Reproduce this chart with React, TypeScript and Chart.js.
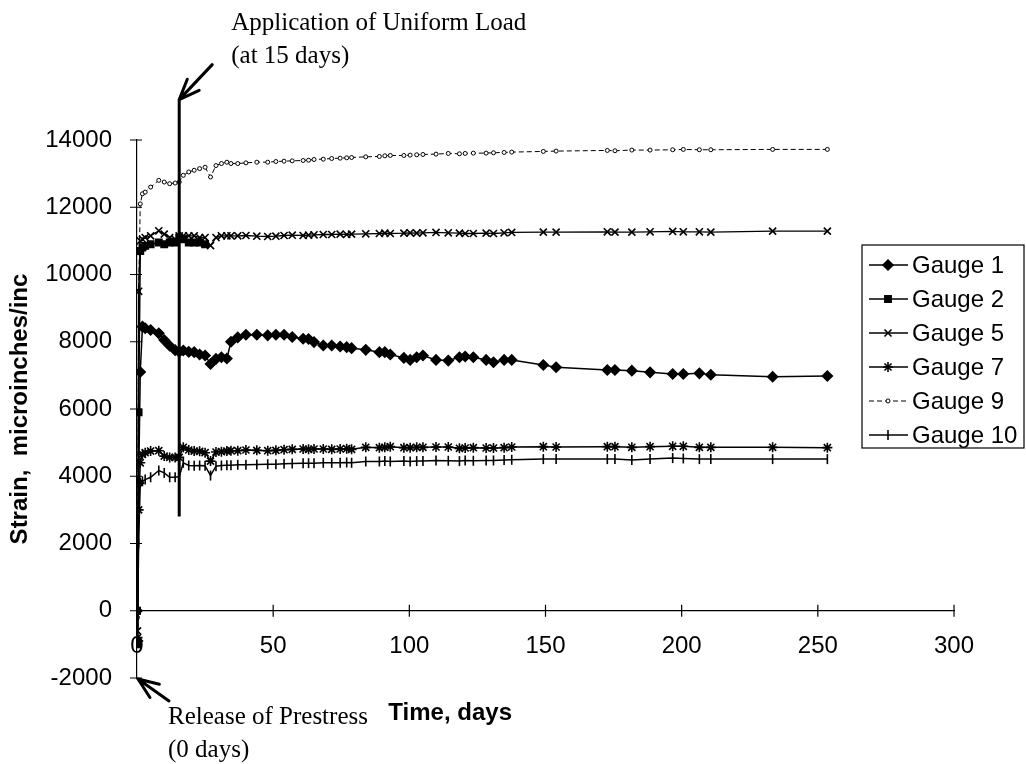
import React, { useEffect, useRef } from "react";
import { Chart, registerables } from "chart.js";
import { drawPoint } from "chart.js/helpers";

Chart.register(...registerables);

// ---------------- data ----------------
const DAYS = [
  0, 0.2, 0.6, 1.2, 2, 3, 5, 8, 10, 12,
  14, 15.5, 17, 19, 21, 23, 25, 27, 29, 31,
  33, 34.5, 37, 40, 44, 48, 51, 54, 57, 61,
  63, 65, 68.4, 71.5, 74.6, 77, 78.8, 84, 89, 91,
  93, 98, 100.3, 102.7, 105, 109.8, 114.3, 118.4, 120.5, 123.5,
  128.2, 130.9, 134.8, 137.6, 149.2, 153.9, 172.7, 175.5, 181.7, 188.4,
  196.7, 200.6, 206.5, 210.7, 233.4, 253.5,
];

const GAUGE_1 = [
  0, -900, 3800, 7100, 8450, 8400, 8350, 8250, 8050, 7880,
  7750, 7700, 7740, 7700, 7690, 7620, 7590, 7340, 7490, 7540,
  7500, 8000, 8130, 8210, 8210, 8190, 8210, 8210, 8140, 8090,
  8080, 7990, 7890, 7890, 7860, 7840, 7810, 7760, 7690, 7690,
  7620, 7520, 7460, 7540, 7590, 7460, 7440, 7540, 7560, 7540,
  7460, 7390, 7460, 7460, 7310, 7240, 7160, 7160, 7140, 7090,
  7040, 7040, 7060, 7020, 6960, 6980,
];

const GAUGE_2 = [
  0, -1000, 5900, 10700, 10800, 10850, 10900, 10950, 10900, 10950,
  10950, 11100, 11050, 10950, 10950, 10950, 10900,
];

const GAUGE_5 = [
  0, -600, 9500, 11000, 11050, 11100, 11150, 11300, 11200, 11100,
  11050, 11150, 11150, 11150, 11150, 11100, 11100, 10860, 11100, 11150,
  11150, 11150, 11150, 11160, 11140, 11130, 11140, 11160, 11170, 11160,
  11170, 11180, 11190, 11190, 11200, 11190, 11200, 11210, 11220, 11230,
  11220, 11230, 11240, 11230, 11240, 11250, 11240, 11230, 11220, 11220,
  11230, 11220, 11240, 11250, 11260, 11260, 11270, 11260, 11260, 11270,
  11280, 11270, 11270, 11260, 11290, 11290,
];

const GAUGE_7 = [
  0, -800, 3000, 4400, 4650, 4700, 4750, 4760, 4600, 4560,
  4560, 4560, 4860, 4780, 4750, 4740, 4700, 4450, 4720, 4730,
  4750, 4760, 4760, 4780, 4770, 4760, 4770, 4790, 4800, 4810,
  4800, 4810, 4810, 4800, 4810, 4820, 4800, 4860, 4850, 4860,
  4880, 4850, 4850, 4860, 4860, 4870, 4870, 4830, 4840, 4850,
  4840, 4840, 4850, 4870, 4880, 4870, 4880, 4880, 4860, 4880,
  4890, 4890, 4860, 4860, 4860, 4850,
];

const GAUGE_9 = [
  0, -200, 9500, 12100, 12400, 12450, 12600, 12800, 12750, 12700,
  12720, 12750, 12950, 13050, 13100, 13150, 13190, 12900, 13240, 13300,
  13340, 13300, 13300, 13320, 13340, 13340, 13360, 13370, 13380, 13390,
  13400, 13420, 13430, 13450, 13460, 13470, 13480, 13500, 13510, 13530,
  13540, 13540, 13550, 13560, 13570, 13580, 13600, 13590, 13600, 13610,
  13610, 13620, 13630, 13640, 13660, 13670, 13690, 13680, 13700, 13700,
  13710, 13720, 13710, 13710, 13720, 13720,
];

const GAUGE_10 = [
  0, -500, 2000, 3800, 3850, 3900, 3970, 4170, 4100, 3970,
  3970, 3990, 4400, 4320, 4310, 4320, 4310, 4020, 4300, 4320,
  4330, 4330, 4340, 4340, 4350, 4360, 4360, 4370, 4380, 4390,
  4390, 4390, 4400, 4400, 4400, 4410, 4400, 4440, 4440, 4450,
  4440, 4450, 4440, 4450, 4450, 4470, 4460, 4450, 4470, 4460,
  4470, 4470, 4480, 4490, 4510, 4510, 4510, 4510, 4480, 4510,
  4540, 4530, 4510, 4510, 4510, 4510,
];

const SERIES_NAMES = ["Gauge 1", "Gauge 2", "Gauge 5", "Gauge 7", "Gauge 9", "Gauge 10"];
const X_TICKS = [0, 50, 100, 150, 200, 250, 300];
const Y_TICKS = [-2000, 0, 2000, 4000, 6000, 8000, 10000, 12000, 14000];
const LOAD_DAY = 15.5;
const LOAD_LINE_RANGE = [2800, 15200];
const RELEASE_DAY = 0;
const RELEASE_VALUE = -2000;

const SANS = "'Liberation Sans', Arial, sans-serif";
const SERIF = "'Liberation Serif', 'Times New Roman', serif";

function toPoints(vals: number[]) {
  return vals.map((v, i) => ({ x: DAYS[i], y: v }));
}

function drawArrow(ctx: CanvasRenderingContext2D, tx: number, ty: number, fx: number, fy: number) {
  // line from (fx,fy) to tip (tx,ty) with open head
  ctx.save();
  ctx.strokeStyle = "#000";
  ctx.lineWidth = 3;
  ctx.lineCap = "round";
  ctx.beginPath();
  ctx.moveTo(fx, fy);
  ctx.lineTo(tx, ty);
  const ang = Math.atan2(fy - ty, fx - tx);
  const hl = 22;
  for (const d of [-0.38, 0.38]) {
    ctx.moveTo(tx, ty);
    ctx.lineTo(tx + hl * Math.cos(ang + d), ty + hl * Math.sin(ang + d));
  }
  ctx.stroke();
  ctx.restore();
}

export default function App() {
  const ref = useRef<HTMLCanvasElement>(null);

  useEffect(() => {
    const canvas = ref.current;
    if (!canvas) return;

    const styles = [
      { pointStyle: "rectRot", radius: 5, borderWidth: 1.5, fill: "#000", dash: [] as number[], lw: 1.5 },
      { pointStyle: "rect", radius: 4.5, borderWidth: 1.5, fill: "#000", dash: [] as number[], lw: 1.5 },
      { pointStyle: "crossRot", radius: 5, borderWidth: 1.6, fill: "#000", dash: [] as number[], lw: 1.3 },
      { pointStyle: "star", radius: 5, borderWidth: 1.6, fill: "#000", dash: [] as number[], lw: 1.5 },
      { pointStyle: "circle", radius: 2, borderWidth: 1, fill: "#fff", dash: [5, 3] as number[], lw: 1 },
      { pointStyle: "line", radius: 5, borderWidth: 1.6, fill: "#000", dash: [] as number[], lw: 1.5, rotation: 90 },
    ];
    const allVals = [GAUGE_1, GAUGE_2, GAUGE_5, GAUGE_7, GAUGE_9, GAUGE_10];

    const datasets = allVals.map((vals, i) => {
      const s: any = styles[i];
      return {
        label: SERIES_NAMES[i],
        data: toPoints(vals),
        showLine: true,
        borderColor: "#000",
        backgroundColor: s.fill,
        borderWidth: s.lw,
        borderDash: s.dash,
        pointStyle: s.pointStyle,
        pointRadius: s.radius,
        pointBorderWidth: s.borderWidth,
        pointBorderColor: "#000",
        pointBackgroundColor: s.fill,
        pointRotation: s.rotation || 0,
        tension: 0,
      };
    });

    const annot = {
      id: "annot",
      afterDraw(chart: any) {
        const ctx: CanvasRenderingContext2D = chart.ctx;
        const xs = chart.scales.x;
        const ys = chart.scales.y;
        const x0 = xs.getPixelForValue(0);
        const y0 = ys.getPixelForValue(0);
        ctx.save();
        ctx.strokeStyle = "#000";
        ctx.lineWidth = 1.2;
        // crossing tick marks
        ctx.beginPath();
        for (const t of X_TICKS) {
          const px = xs.getPixelForValue(t);
          ctx.moveTo(px, y0 - 6);
          ctx.lineTo(px, y0 + 6);
        }
        for (const t of Y_TICKS) {
          const py = ys.getPixelForValue(t);
          ctx.moveTo(x0 - 7, py);
          ctx.lineTo(x0 + 5, py);
        }
        ctx.stroke();

        // load line
        const lx = xs.getPixelForValue(LOAD_DAY);
        const lTop = ys.getPixelForValue(LOAD_LINE_RANGE[1]);
        const lBot = ys.getPixelForValue(LOAD_LINE_RANGE[0]);
        ctx.lineWidth = 3;
        ctx.beginPath();
        ctx.moveTo(lx, lTop);
        ctx.lineTo(lx, lBot);
        ctx.stroke();
        drawArrow(ctx, lx, lTop, lx + 33, lTop - 35);

        ctx.fillStyle = "#000";
        ctx.font = `25px ${SERIF}`;
        ctx.textAlign = "left";
        ctx.textBaseline = "middle";
        ctx.fillText("Application of Uniform Load", lx + 52, lTop - 76);
        ctx.fillText("(at 15 days)", lx + 52, lTop - 43);

        // release arrow
        const rx = xs.getPixelForValue(RELEASE_DAY);
        const ry = ys.getPixelForValue(RELEASE_VALUE);
        drawArrow(ctx, rx + 1, ry + 1, rx + 32, ry + 23);
        ctx.fillText("Release of Prestress", rx + 31, ry + 39);
        ctx.fillText("(0 days)", rx + 31, ry + 72);

        // x axis title
        ctx.font = `bold 24px ${SANS}`;
        ctx.textAlign = "center";
        ctx.fillText("Time, days", xs.getPixelForValue(115), ry + 35);

        // legend box
        const lb = { l: 862, t: 245, r: 1024, b: 448 };
        ctx.lineWidth = 1.2;
        ctx.setLineDash([]);
        ctx.strokeRect(lb.l, lb.t, lb.r - lb.l, lb.b - lb.t);
        const rowH = 34;
        chart.data.datasets.forEach((ds: any, i: number) => {
          const cy = lb.t + 20 + i * rowH;
          ctx.save();
          ctx.lineWidth = ds.borderWidth;
          ctx.setLineDash(ds.borderDash || []);
          ctx.beginPath();
          ctx.moveTo(lb.l + 7, cy);
          ctx.lineTo(lb.l + 46, cy);
          ctx.stroke();
          ctx.setLineDash([]);
          ctx.fillStyle = ds.pointBackgroundColor;
          ctx.strokeStyle = "#000";
          ctx.lineWidth = ds.pointBorderWidth;
          drawPoint(ctx, { pointStyle: ds.pointStyle, rotation: ds.pointRotation, radius: ds.pointRadius, borderWidth: ds.pointBorderWidth } as any, lb.l + 26, cy);
          ctx.restore();
          ctx.fillStyle = "#000";
          ctx.font = `24px ${SANS}`;
          ctx.textAlign = "left";
          ctx.textBaseline = "middle";
          ctx.fillText(ds.label, lb.l + 50, cy + 1);
        });
        ctx.restore();
      },
    };

    const chart = new Chart(canvas, {
      type: "scatter",
      data: { datasets: datasets as any },
      options: {
        responsive: false,
        animation: false,
        events: [],
        layout: { padding: { left: 0, top: 140, right: 72, bottom: 86 } },
        plugins: { legend: { display: false }, tooltip: { enabled: false } },
        scales: {
          x: {
            type: "linear",
            min: 0,
            max: 300,
            position: { y: 0 } as any,
            grid: { display: false, drawTicks: false },
            border: { display: true, color: "#000", width: 1.2 },
            afterBuildTicks: (s: any) => {
              s.ticks = X_TICKS.map((v) => ({ value: v }));
            },
            ticks: {
              color: "#000",
              font: { family: SANS, size: 24 },
              padding: 21,
              maxRotation: 0,
              autoSkip: false,
              callback: (v: any) => String(v),
            },
          },
          y: {
            type: "linear",
            min: -2000,
            max: 14000,
            position: "left",
            afterFit: (s: any) => {
              s.width = 137;
            },
            afterBuildTicks: (s: any) => {
              s.ticks = Y_TICKS.map((v) => ({ value: v }));
            },
            grid: { display: false, drawTicks: false },
            border: { display: true, color: "#000", width: 1.2 },
            ticks: {
              color: "#000",
              font: { family: SANS, size: 24 },
              padding: 25,
              callback: (v: any) => String(v),
            },
            title: {
              display: true,
              text: "Strain,  microinches/inc",
              color: "#000",
              font: { family: SANS, size: 24, weight: "bold" },
              padding: { top: 6, bottom: 0 },
            },
          },
        },
      },
      plugins: [annot],
    });

    return () => chart.destroy();
  }, []);

  return (
    <div style={{ position: "fixed", left: 0, top: 0, width: 1026, height: 764, background: "#fff" }}>
      <canvas ref={ref} width={1026} height={764} style={{ display: "block" }} />
    </div>
  );
}
